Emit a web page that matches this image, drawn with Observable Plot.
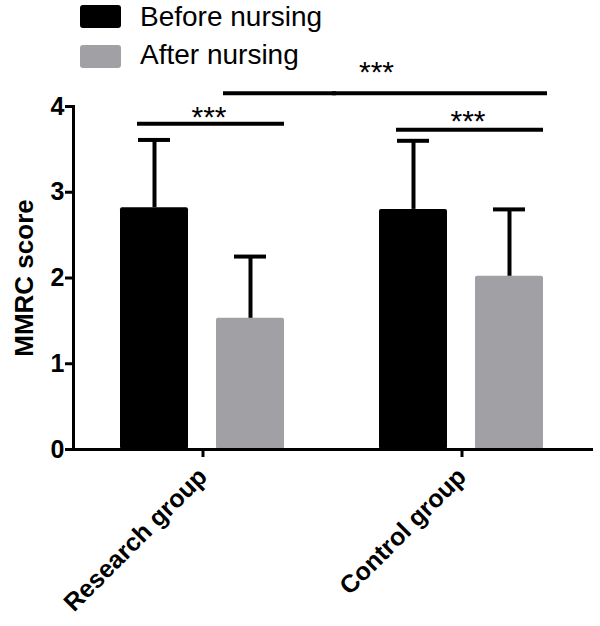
<!DOCTYPE html>
<html>
<head>
<meta charset="utf-8">
<script src="https://cdn.jsdelivr.net/npm/d3@7"></script>
<script src="https://cdn.jsdelivr.net/npm/@observablehq/plot@0.6"></script>
<style>
  body { margin: 0; background: #fff; font-family: "Liberation Sans", Arial, sans-serif; }
  #wrap { position: relative; width: 600px; height: 626px; }
  #legend { position: absolute; left: 0; top: 0; width: 340px; height: 75px; }
  .sw { position: absolute; left: 80px; width: 41px; height: 23px; border-radius: 3px; }
  .lt { position: absolute; left: 140px; font-size: 28px; line-height: 28px; color: #000; white-space: nowrap; }
</style>
</head>
<body>
<div id="wrap"><div id="chart"></div><div id="legend"></div></div>
<script>
// ---- data ----
const groups = ["Research group", "Control group"];
const phases = ["Before nursing", "After nursing"];
const beforeMean = [2.82, 2.80];
const beforeSD = [0.79, 0.80];
const afterMean = [1.53, 2.02];
const afterSD = [0.72, 0.78];
const colors = ["#000000", "#a1a0a5"];
const yTicks = [0, 1, 2, 3, 4];
const yLabel = "MMRC score";
const sigLabel = "***";

const rows = groups.flatMap((g, i) => [
  {group: g, phase: phases[0], mean: beforeMean[i], sd: beforeSD[i]},
  {group: g, phase: phases[1], mean: afterMean[i], sd: afterSD[i]}
]);

const font = "'Liberation Sans', Arial, sans-serif";
const line = {stroke: "#000", strokeWidth: 4};

const chart = Plot.plot({
  width: 600,
  height: 626,
  marginLeft: 73,
  marginRight: 9,
  marginTop: 106,
  marginBottom: 177,
  style: {fontFamily: font, background: "transparent", color: "#000"},
  fx: {domain: groups, paddingInner: 0, paddingOuter: 0, label: null},
  x: {domain: phases, paddingInner: 0.29, paddingOuter: 0.49, axis: null},
  y: {domain: [0, 4], label: null},
  color: {domain: phases, range: colors},
  marks: [
    Plot.barY(rows, {fx: "group", x: "phase", y: "mean", fill: "phase", rx: 2}),
    Plot.ruleX(rows, {fx: "group", x: "phase", y1: "mean", y2: d => d.mean + d.sd, ...line}),
    Plot.tickY(rows, {fx: "group", x: "phase", y: d => d.mean + d.sd, ...line, insetLeft: 18, insetRight: 18}),
    Plot.frame({anchor: "left", facetAnchor: "left", stroke: "#000", strokeWidth: 3}),
    Plot.frame({anchor: "bottom", stroke: "#000", strokeWidth: 3}),
    Plot.axisY({ticks: yTicks, tickFormat: d => String(d), tickSize: 8, tickPadding: 1, fontSize: 25, fontWeight: "bold", strokeWidth: 3, label: null}),
    Plot.axisY({ticks: [], tickSize: 0, label: yLabel, labelAnchor: "center", labelArrow: "none", labelOffset: 59, fontSize: 26, fontWeight: "bold"}),
    Plot.axisFx({anchor: "bottom", tickSize: 8, tickPadding: 15, tickRotate: -45, fontSize: 25, fontWeight: "bold", strokeWidth: 3, label: null}),
    // within-group brackets (Before vs After)
    Plot.ruleY(groups, {fx: d => d, y: d => d === groups[0] ? 3.80 : 3.73, x1: () => phases[0], x2: () => phases[1], insetLeft: 17, ...line}),
    Plot.text(groups, {fx: d => d, y: d => d === groups[0] ? 3.76 : 3.72, text: () => sigLabel, dx: 6, fontSize: 30, lineAnchor: "bottom"}),
    // between-group bracket (After nursing: research vs control)
    Plot.ruleY([groups[0]], {fx: d => d, y: () => 4.155, x1: () => phases[1], x2: () => phases[1], insetLeft: 7, insetRight: -52, ...line}),
    Plot.ruleY([groups[1]], {fx: d => d, y: () => 4.155, insetRight: 44, ...line}),
    Plot.text([groups[1]], {fx: d => d, y: () => 4.29, frameAnchor: "left", textAnchor: "middle", text: () => sigLabel, dx: 44, fontSize: 30, lineAnchor: "bottom"})
  ]
});
document.getElementById("chart").appendChild(chart);

// legend
const legend = document.getElementById("legend");
phases.forEach((p, i) => {
  const sw = document.createElement("div");
  sw.className = "sw";
  sw.style.top = (5 + i * 40) + "px";
  sw.style.background = colors[i];
  legend.appendChild(sw);
  const t = document.createElement("div");
  t.className = "lt";
  t.style.top = (3 + i * 38) + "px";
  t.textContent = p;
  legend.appendChild(t);
});
</script>
</body>
</html>
